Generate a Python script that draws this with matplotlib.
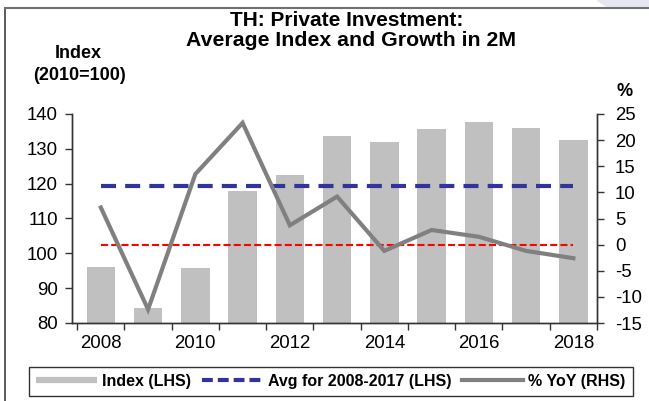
import matplotlib.pyplot as plt
import numpy as np
from matplotlib.lines import Line2D
from matplotlib.patches import Polygon

plt.rcParams['font.family'] = ['Liberation Sans', 'DejaVu Sans']
plt.rcParams['axes.unicode_minus'] = False

years = [2008, 2009, 2010, 2011, 2012, 2013, 2014, 2015, 2016, 2017, 2018]
index_vals = [96.1, 84.2, 95.7, 118.0, 122.5, 133.8, 132.1, 135.7, 137.7, 136.1, 132.5]
yoy_vals = [7.1, -12.4, 13.5, 23.3, 3.7, 9.2, -1.2, 2.8, 1.5, -1.2, -2.6]
year_labels = ['2008', '2010', '2012', '2014', '2016', '2018']

avg_0817 = np.mean(index_vals[:10])

W, H = 649, 401
fig = plt.figure(figsize=(W / 100, H / 100), dpi=100)

ax = fig.add_axes([72 / W, 1 - 323 / H, (597 - 72) / W, (323 - 114) / H])
ax2 = ax.twinx()

x = np.arange(len(years))
ax.bar(x, index_vals, width=0.6, color='#c0c0c0', zorder=1)
ax.plot(x, np.full(len(x), avg_0817), color='#333399', lw=3,
        dashes=(3.6, 2.2), zorder=3)
ax2.plot(x, np.zeros(len(x)), color='#ff0000', lw=1.5, dashes=(3.4, 1.5))
ax2.plot(x, yoy_vals, color='#808080', lw=3, solid_joinstyle='miter')

ax.set_xlim(-0.61, 10.5)
ax.set_ylim(80, 140)
ax.set_yticks(range(80, 141, 10))
ax2.set_ylim(-15, 25)
ax2.set_yticks(range(-15, 26, 5))

ax.set_xticks(np.arange(-0.5, 11, 1))
ax.set_xticklabels([])
ax.set_xticks(x[::2], minor=True)
ax.set_xticklabels(year_labels, minor=True)

spine_c = '#333333'
for a in (ax, ax2):
    a.spines['top'].set_visible(False)
    for s in a.spines.values():
        s.set_color(spine_c)
        s.set_linewidth(1.0)
ax.tick_params(axis='y', length=5, width=1, color=spine_c, labelsize=13.4, pad=5)
ax.tick_params(axis='x', which='major', length=5, width=1, color=spine_c)
ax.tick_params(axis='x', which='minor', length=0, labelsize=13.4, pad=9)
ax2.tick_params(axis='y', length=5, width=1, color=spine_c, labelsize=13.4, pad=8)

# titles and axis captions
fig.text(347 / W, 1 - 20 / H, 'TH: Private Investment:', ha='center', va='center',
         fontsize=15, fontweight='bold')
fig.text(351 / W, 1 - 41 / H, 'Average Index and Growth in 2M', ha='center', va='center',
         fontsize=15.3, fontweight='bold')
fig.text(78 / W, 1 - 53 / H, 'Index', ha='center', va='center',
         fontsize=13, fontweight='bold')
fig.text(80 / W, 1 - 76 / H, '(2010=100)', ha='center', va='center',
         fontsize=13, fontweight='bold')
fig.text(625 / W, 1 - 92 / H, '%', ha='center', va='center',
         fontsize=13, fontweight='bold')

handles = [
    Line2D([], [], color='#c0c0c0', lw=4.5, solid_capstyle='butt'),
    Line2D([], [], color='#333399', lw=3, dashes=(2.6, 1.2)),
    Line2D([], [], color='#808080', lw=3),
]
labels = ['Index (LHS)', 'Avg for 2008-2017 (LHS)', '% YoY (RHS)']
leg = fig.legend(handles, labels, ncol=3, loc='lower left',
                 bbox_to_anchor=(29 / W, 5 / H), bbox_transform=fig.transFigure,
                 prop={'weight': 'bold', 'size': 11.5}, frameon=True, fancybox=False,
                 edgecolor='black', handlelength=3.8, handletextpad=0.35,
                 columnspacing=0.65, borderpad=0.45, borderaxespad=0)
leg.get_frame().set_linewidth(1.0)

# outer frame pieces and corner decoration
fig.add_artist(Line2D([5 / W, 5 / W], [0, 1 - 7.5 / H], color='#404040', lw=1.2,
                      transform=fig.transFigure))
fig.add_artist(Line2D([5 / W, 1], [1 - 7.5 / H, 1 - 7.5 / H], color='#707070', lw=1.5,
                      transform=fig.transFigure))
fig.add_artist(Polygon([[597 / W, 1], [1, 1], [1, 1 - 6.5 / H], [608 / W, 1 - 6.5 / H]],
                       closed=True, color='#e6e6f2', transform=fig.transFigure))

fig.savefig('out.png', dpi=100)
